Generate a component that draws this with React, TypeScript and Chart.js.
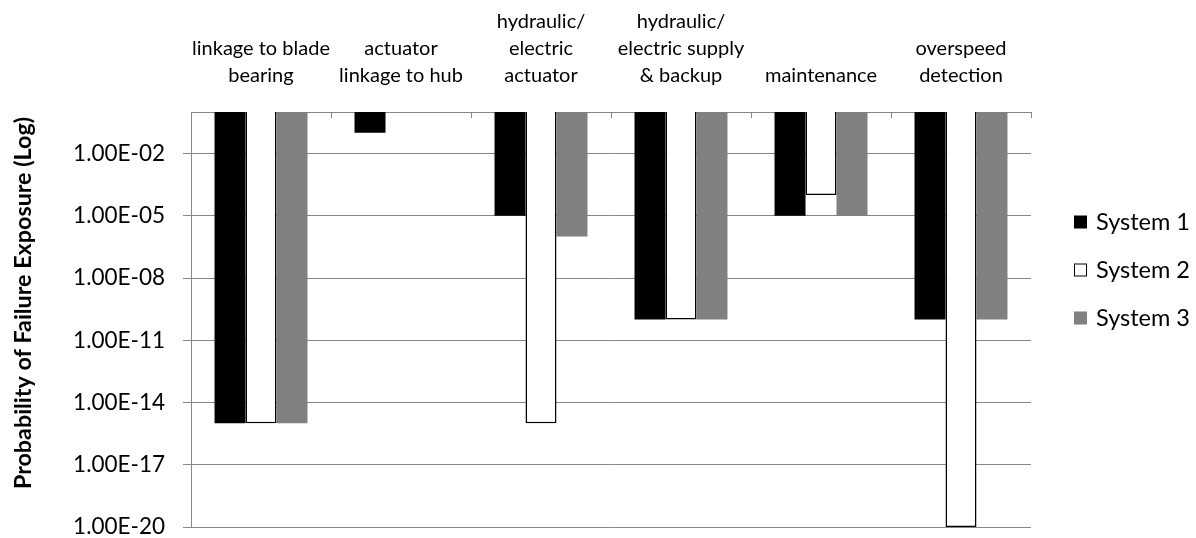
import React, { useEffect, useRef } from 'react';
import { Chart, registerables } from 'chart.js';

Chart.register(...registerables);

// ---- data ----
const CATEGORIES: string[][] = [
  ['linkage to blade', 'bearing'],
  ['actuator', 'linkage to hub'],
  ['hydraulic/', 'electric', 'actuator'],
  ['hydraulic/', 'electric supply', '& backup'],
  ['maintenance'],
  ['overspeed', 'detection'],
];
const SERIES_NAMES = ['System 1', 'System 2', 'System 3'];
const SYSTEM1 = [1e-15, 1e-1, 1e-5, 1e-10, 1e-5, 1e-10];
const SYSTEM2 = [1e-15, null, 1e-15, 1e-10, 1e-4, 1e-20];
const SYSTEM3 = [1e-15, null, 1e-6, 1e-10, 1e-5, 1e-10];
const Y_TICKS = [1e-20, 1e-17, 1e-14, 1e-11, 1e-8, 1e-5, 1e-2];
const Y_MIN = 1e-20;
const Y_MAX = 1;
const Y_TITLE = 'Probability of Failure Exposure (Log)';

const FONT = 'Lato, "Open Sans", sans-serif';
const GRID = '#878787';

function fmtExp(v: number): string {
  const e = Math.round(Math.log10(v));
  const m = v / Math.pow(10, e);
  return `${m.toFixed(2)}E${e < 0 ? '-' : '+'}${String(Math.abs(e)).padStart(2, '0')}`;
}

const yTitlePlugin = {
  id: 'yTitlePlugin',
  afterDraw(chart: any) {
    const ctx = chart.ctx;
    ctx.save();
    ctx.translate(23, 303);
    ctx.rotate(-Math.PI / 2);
    ctx.font = `bold 23.3px ${FONT}`;
    ctx.fillStyle = '#000';
    ctx.textAlign = 'center';
    ctx.textBaseline = 'middle';
    ctx.fillText(Y_TITLE, 0, 0);
    ctx.restore();
  },
};

const LEGEND_X = 1074;
const LEGEND_Y0 = 222;
const LEGEND_STEP = 48;
const legendPlugin = {
  id: 'sideLegend',
  afterDraw(chart: any) {
    const ctx = chart.ctx;
    ctx.save();
    chart.data.datasets.forEach((ds: any, i: number) => {
      const cy = LEGEND_Y0 + i * LEGEND_STEP;
      ctx.fillStyle = ds.backgroundColor;
      ctx.fillRect(LEGEND_X, cy - 6.5, 13, 13);
      if (ds.borderWidth) {
        ctx.strokeStyle = ds.borderColor;
        ctx.lineWidth = 1;
        ctx.strokeRect(LEGEND_X + 0.5, cy - 6, 12, 12);
      }
      ctx.fillStyle = '#000';
      ctx.font = `23.5px ${FONT}`;
      ctx.textAlign = 'left';
      ctx.textBaseline = 'middle';
      ctx.fillText(ds.label, 1096, cy);
    });
    ctx.restore();
  },
};

export default function App() {
  const ref = useRef<HTMLCanvasElement | null>(null);
  useEffect(() => {
    if (!ref.current) return;
    const chart = new Chart(ref.current, {
      type: 'bar',
      data: {
        labels: CATEGORIES as any,
        datasets: [
          { label: SERIES_NAMES[0], data: SYSTEM1 as any, backgroundColor: '#000000', borderWidth: 0, base: 1 } as any,
          { label: SERIES_NAMES[1], data: SYSTEM2 as any, backgroundColor: '#ffffff', borderColor: '#000000', borderWidth: 1.5, base: 1 } as any,
          { label: SERIES_NAMES[2], data: SYSTEM3 as any, backgroundColor: '#808080', borderWidth: 0, base: 1 } as any,
        ],
      },
      options: {
        responsive: false,
        animation: false,
        events: [],
        devicePixelRatio: 1,
        layout: { padding: { left: 0, top: 0, right: 165, bottom: 11 } },
        datasets: { bar: { categoryPercentage: 0.664, barPercentage: 1.0 } } as any,
        plugins: { legend: { display: false }, tooltip: { enabled: false } },
        scales: {
          x: {
            position: 'top',
            offset: true,
            grid: {
              display: true,
              offset: true,
              drawOnChartArea: false,
              drawTicks: true,
              tickLength: -6,
              color: GRID,
              lineWidth: 1,
            },
            border: { display: true, color: GRID, width: 1 },
            ticks: {
              autoSkip: false,
              maxRotation: 0,
              minRotation: 0,
              padding: 28.5,
              color: '#000',
              font: { family: FONT, size: 20, lineHeight: '27px' as any },
            },
            afterFit: (scale: any) => {
              scale.height = 112;
              scale.paddingLeft = 0;
              scale.paddingRight = 0;
            },
          },
          y: {
            type: 'logarithmic',
            min: Y_MIN,
            max: Y_MAX,
            afterBuildTicks: (scale: any) => {
              scale.ticks = Y_TICKS.map((value) => ({ value }));
            },
            afterFit: (scale: any) => {
              scale.width = 191;
              scale.paddingTop = 0;
              scale.paddingBottom = 0;
            },
            grid: { color: GRID, lineWidth: 1, drawTicks: true, tickLength: 8 },
            border: { display: true, color: GRID, width: 1 },
            ticks: {
              padding: 18,
              color: '#000',
              font: { family: FONT, size: 22.5 },
              callback: (v: any) => fmtExp(Number(v)),
            },
            title: { display: false },
          },
        },
      } as any,
      plugins: [yTitlePlugin, legendPlugin],
    });
    return () => chart.destroy();
  }, []);
  return (
    <div style={{ position: 'absolute', left: 0, top: 0, width: 1196, height: 538, background: '#fff' }}>
      <canvas ref={ref} width={1196} height={538} />
    </div>
  );
}
